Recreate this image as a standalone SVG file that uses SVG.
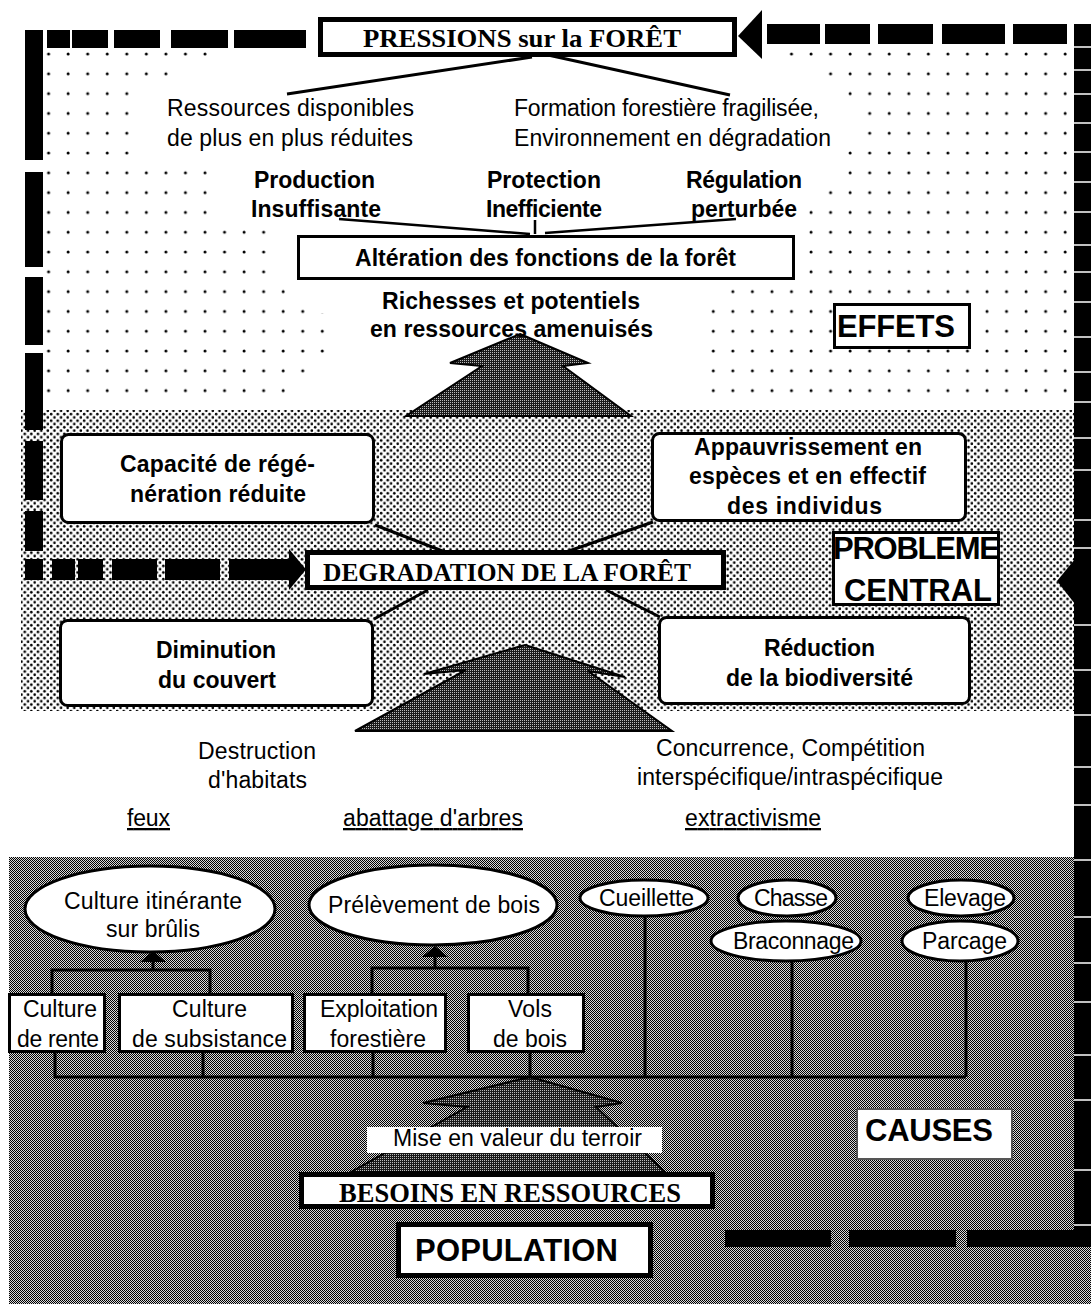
<svg xmlns="http://www.w3.org/2000/svg" width="1091" height="1304" viewBox="0 0 1091 1304">
<defs>
<pattern id="sparse" patternUnits="userSpaceOnUse" x="38.7" y="44.1" width="19.55" height="19.8"><circle cx="9.9" cy="10" r="1.5" fill="#000"/></pattern>
<pattern id="stip" patternUnits="userSpaceOnUse" width="6.6" height="6.6"><rect width="6.6" height="6.6" fill="#fff"/><circle cx="1.65" cy="1.65" r="1.3" fill="#000"/><circle cx="4.95" cy="4.95" r="1.3" fill="#000"/></pattern>
<pattern id="check" patternUnits="userSpaceOnUse" width="2" height="2"><rect width="2" height="2" fill="#d8d8d8"/><rect width="1" height="1" fill="#000"/><rect x="1" y="1" width="1" height="1" fill="#000"/></pattern>
<pattern id="dark" patternUnits="userSpaceOnUse" width="2" height="2"><rect width="2" height="2" fill="#1a1a1a"/><rect width="1" height="1" fill="#bbb"/></pattern>
<style>
.t{font-family:"Liberation Sans",Arial,sans-serif;font-size:23px;fill:#000}
.b{font-weight:bold}
.s{font-family:"Liberation Serif","Times New Roman",serif;font-weight:bold;fill:#000}
.big{font-size:31px}
.box{fill:#fff;stroke:#000;stroke-width:3}
.thick{fill:#fff;stroke:#000;stroke-width:5}
.ell{fill:#fff;stroke:#000;stroke-width:3}
.ln{stroke:#000;stroke-width:3;fill:none}
.ln2{stroke:#000;stroke-width:2.5;fill:none}
.bar{fill:#000}
.gap{stroke:#fff;stroke-width:1.5}
.arrow{fill:url(#dark);stroke:#000;stroke-width:2;stroke-linejoin:miter}
</style>
</defs>
<rect width="1091" height="1304" fill="#fff"/>
<g id="backgrounds">
<path fill="url(#sparse)" fill-rule="evenodd" d="M43,44 H1074 V408 H43 Z M208,44 V64 H172 V84 H134 V162 H210 V222 H268 V281 H288 V300 H306 V313 H326 V364 H306 V384 H288 V408 H708 V306 H730 V281 H806 V203 H825 V183 H843 V143 H862 V104 H843 V84 H825 V64 H787 V44 Z"/>
<rect x="21" y="410" width="1053" height="301" fill="url(#stip)"/>
<rect x="9" y="857" width="1082" height="447" fill="url(#check)"/>
</g>
<g id="frame">
<rect class="bar" x="47" y="30" width="23" height="18"/>
<rect class="bar" x="72" y="30" width="36" height="18"/>
<rect class="bar" x="114" y="30" width="46" height="18"/>
<rect class="bar" x="171" y="30" width="57" height="18"/>
<rect class="bar" x="234" y="30" width="72" height="18"/>
<rect class="bar" x="25" y="30" width="18" height="130"/>
<rect class="bar" x="25" y="172" width="18" height="95"/>
<rect class="bar" x="25" y="277" width="18" height="68"/>
<rect class="bar" x="25" y="353" width="18" height="77"/>
<rect class="bar" x="25" y="441" width="18" height="59"/>
<rect class="bar" x="25" y="511" width="18" height="40"/>
<rect class="bar" x="25" y="559" width="18" height="21"/>
<rect class="bar" x="52" y="559" width="23" height="21"/>
<rect class="bar" x="78" y="559" width="25" height="21"/>
<rect class="bar" x="112" y="559" width="45" height="21"/>
<rect class="bar" x="165" y="559" width="55" height="21"/>
<rect class="bar" x="229" y="559" width="61" height="21"/>
<polygon class="bar" points="289,549 306,569.5 289,590"/>
<polygon class="bar" points="738,36 762,10 762,59"/>
<rect class="bar" x="767" y="24" width="53" height="20"/>
<rect class="bar" x="825" y="24" width="45" height="20"/>
<rect class="bar" x="878" y="24" width="55" height="20"/>
<rect class="bar" x="942" y="24" width="63" height="20"/>
<rect class="bar" x="1013" y="24" width="54" height="20"/>
<rect class="bar" x="1074" y="24" width="17" height="1223"/>
<polygon class="bar" points="1057,581 1075,559 1075,604"/>
<rect class="bar" x="725" y="1230" width="106" height="17"/>
<rect class="bar" x="849" y="1230" width="107" height="17"/>
<rect class="bar" x="967" y="1230" width="124" height="17"/>
<path class="gap" d="M1074,47H1091M1074,70H1091M1074,94H1091M1074,123H1091M1074,152H1091M1074,182H1091M1074,212H1091M1074,245H1091M1074,272H1091M1074,302H1091M1074,337H1091M1074,372H1091M1074,402H1091M1074,438H1091M1074,470H1091M1074,520H1091M1074,548H1091M1074,625H1091M1074,670H1091M1074,715H1091M1074,767H1091M1074,805H1091M1074,860H1091M1074,917H1091M1074,963H1091M1074,1002H1091M1074,1055H1091M1074,1100H1091M1074,1170H1091M1074,1225H1091"/>
</g>
<g id="connectors">
<path class="ln" d="M532,57 L287,94 M548,55 L730,95"/>
<path class="ln2" d="M339,219 L530,234 M535,220 L535,234 M736,219 L545,233"/>
<path class="ln" d="M375,525 L445,552 M653,522 L566,552 M428,590 L374,619 M606,590 L660,617"/>
<polygon id="arrow-effets" class="arrow" points="520,334 588,363 563,366 631,416 406,416 482,366 450,363"/>
<polygon id="arrow-probleme" class="arrow" points="525,645 625,677 588,671 672,731 355,731 466,670 424,674"/>
<polygon id="arrow-causes" class="arrow" points="530,1077 622,1103 596,1107 665,1172 351,1172 467,1107 423,1103"/>
<polygon class="bar" points="140,962 166,962 153,951"/>
<polygon class="bar" points="422,957 448,957 435,946"/>
<path class="ln" d="M153,962 V970 M52,993 V970 H210 V993 M435,957 V968 M372,993 V968 H528 V993"/>
<path class="ln" d="M55,1053 V1077 H966 M203,1053 V1077 M373,1053 V1077 M530,1053 V1077 M645,916 V1077 M792,961 V1077 M966,961 V1077"/>
</g>
<g id="n-pressions"><rect class="thick" x="320.5" y="19.5" width="414" height="35"/><text class="s" x="363" y="47" font-size="25" textLength="318" lengthAdjust="spacingAndGlyphs">PRESSIONS sur la FORÊT</text></g>
<g id="n-ressources"><text class="t" x="167" y="116" textLength="247">Ressources disponibles</text><text class="t" x="167" y="146" textLength="246">de plus en plus réduites</text></g>
<g id="n-formation"><text class="t" x="514" y="116" textLength="305">Formation forestière fragilisée,</text><text class="t" x="514" y="146" textLength="317">Environnement en dégradation</text></g>
<g id="n-production"><text class="t b" x="254" y="188" textLength="121">Production</text><text class="t b" x="251" y="217" textLength="130">Insuffisante</text></g>
<g id="n-protection"><text class="t b" x="487" y="188" textLength="114">Protection</text><text class="t b" x="486" y="217" textLength="116">Inefficiente</text></g>
<g id="n-regulation"><text class="t b" x="686" y="188" textLength="116">Régulation</text><text class="t b" x="691" y="217" textLength="106">perturbée</text></g>
<g id="n-alteration"><rect class="box" x="298.5" y="236.5" width="495" height="42"/><text class="t b" x="355" y="266" textLength="381">Altération des fonctions de la forêt</text></g>
<g id="n-richesses"><text class="t b" x="382" y="309" textLength="258">Richesses et potentiels</text><text class="t b" x="370" y="337" textLength="283">en ressources amenuisés</text></g>
<g id="n-effets"><rect class="box" x="834.5" y="304.5" width="135" height="43"/><text class="t b big" x="837" y="337" textLength="118">EFFETS</text></g>
<g id="n-capacite"><rect class="box" x="61.5" y="434.5" width="312" height="88" rx="7"/><text class="t b" x="120" y="472" textLength="195">Capacité de régé-</text><text class="t b" x="130" y="502" textLength="176">nération réduite</text></g>
<g id="n-appauvrissement"><rect class="box" x="652.5" y="433.5" width="313" height="87" rx="7"/><text class="t b" x="694" y="455" textLength="228">Appauvrissement en</text><text class="t b" x="689" y="484" textLength="237">espèces et en effectif</text><text class="t b" x="727" y="514" textLength="155">des individus</text></g>
<g id="n-degradation"><rect class="thick" x="307.5" y="552.5" width="416" height="35"/><text class="s" x="323" y="581" font-size="25" textLength="368" lengthAdjust="spacingAndGlyphs">DEGRADATION DE LA FORÊT</text></g>
<g id="n-probleme"><rect class="box" x="833.5" y="532.5" width="165" height="72"/><text class="t b big" x="833" y="559" textLength="167">PROBLEME</text><text class="t b big" x="844" y="601" textLength="148">CENTRAL</text></g>
<g id="n-diminution"><rect class="box" x="60.5" y="620.5" width="312" height="85" rx="7"/><text class="t b" x="156" y="658" textLength="120">Diminution</text><text class="t b" x="158" y="688" textLength="118">du couvert</text></g>
<g id="n-reduction"><rect class="box" x="659.5" y="617.5" width="310" height="86" rx="7"/><text class="t b" x="764" y="656" textLength="111">Réduction</text><text class="t b" x="726" y="686" textLength="187">de la biodiversité</text></g>
<g id="n-destruction"><text class="t" x="198" y="759" textLength="118">Destruction</text><text class="t" x="208" y="788" textLength="99">d'habitats</text></g>
<g id="n-concurrence"><text class="t" x="656" y="756" textLength="269">Concurrence, Compétition</text><text class="t" x="637" y="785" textLength="306">interspécifique/intraspécifique</text></g>
<g id="n-feux"><text class="t" x="127" y="826" textLength="43" text-decoration="underline">feux</text></g>
<g id="n-abattage"><text class="t" x="343" y="826" textLength="180" text-decoration="underline">abattage d'arbres</text></g>
<g id="n-extractivisme"><text class="t" x="685" y="826" textLength="136" text-decoration="underline">extractivisme</text></g>
<g id="n-culture-itinerante"><ellipse class="ell" cx="150" cy="909" rx="125" ry="43"/><text class="t" x="64" y="909" textLength="178">Culture itinérante</text><text class="t" x="106" y="937" textLength="94">sur brûlis</text></g>
<g id="n-prelevement"><ellipse class="ell" cx="433" cy="905" rx="124" ry="40"/><text class="t" x="328" y="913" textLength="212">Prélèvement de bois</text></g>
<g id="n-cueillette"><ellipse class="ell" cx="644" cy="898" rx="64" ry="18"/><text class="t" x="599" y="906" textLength="95">Cueillette</text></g>
<g id="n-chasse"><ellipse class="ell" cx="787" cy="898" rx="49" ry="18"/><text class="t" x="754" y="906" textLength="74">Chasse</text></g>
<g id="n-elevage"><ellipse class="ell" cx="961" cy="898" rx="53" ry="18"/><text class="t" x="924" y="906" textLength="82">Elevage</text></g>
<g id="n-braconnage"><ellipse class="ell" cx="786" cy="941" rx="75" ry="20"/><text class="t" x="733" y="949" textLength="121">Braconnage</text></g>
<g id="n-parcage"><ellipse class="ell" cx="960" cy="941" rx="58" ry="20"/><text class="t" x="922" y="949" textLength="85">Parcage</text></g>
<g id="n-rente"><rect class="box" x="9.5" y="994.5" width="95" height="57"/><text class="t" x="23" y="1017" textLength="74">Culture</text><text class="t" x="17" y="1047" textLength="82">de rente</text></g>
<g id="n-subsistance"><rect class="box" x="119.5" y="994.5" width="173" height="57"/><text class="t" x="172" y="1017" textLength="75">Culture</text><text class="t" x="132" y="1047" textLength="155">de subsistance</text></g>
<g id="n-exploitation"><rect class="box" x="304.5" y="994.5" width="141" height="57"/><text class="t" x="320" y="1017" textLength="118">Exploitation</text><text class="t" x="330" y="1047" textLength="96">forestière</text></g>
<g id="n-vols"><rect class="box" x="468.5" y="994.5" width="115" height="57"/><text class="t" x="508" y="1017" textLength="44">Vols</text><text class="t" x="493" y="1047" textLength="74">de bois</text></g>
<g id="n-mise"><rect x="367" y="1127" width="295" height="26" fill="#fff"/><text class="t" x="393" y="1146" textLength="249">Mise en valeur du terroir</text></g>
<g id="n-besoins"><rect class="thick" x="301.5" y="1174.5" width="411" height="32"/><text class="s" x="339" y="1202" font-size="27" textLength="342" lengthAdjust="spacingAndGlyphs">BESOINS EN RESSOURCES</text></g>
<g id="n-population"><rect class="thick" x="398.5" y="1224.5" width="252" height="51"/><text class="t b big" x="415" y="1261" textLength="203">POPULATION</text></g>
<g id="n-causes"><rect x="857" y="1109" width="155" height="50" fill="#fff" stroke="#555" stroke-width="2"/><text class="t b big" x="865" y="1141" textLength="128">CAUSES</text></g>
</svg>
